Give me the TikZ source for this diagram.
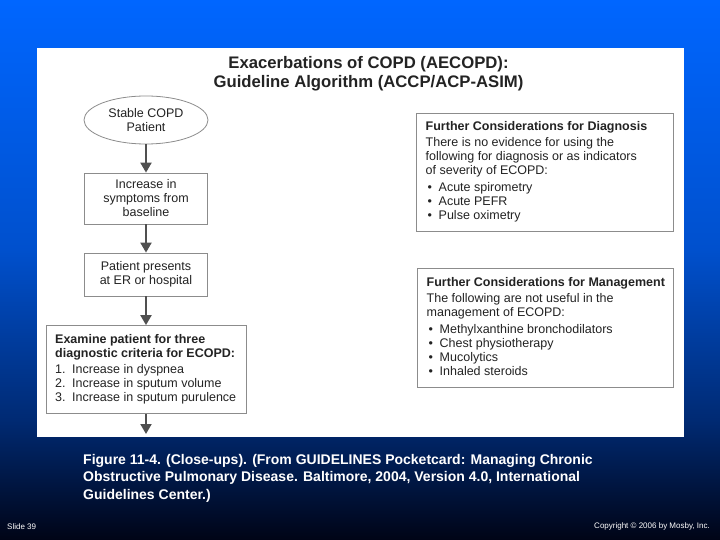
\documentclass[tikz,border=0pt]{standalone}
\usepackage{fontspec}
\setmainfont{Liberation Sans}
\usetikzlibrary{arrows.meta,shapes.geometric}
\definecolor{bgA}{RGB}{0,102,255}
\definecolor{bgB}{RGB}{0,80,205}
\definecolor{bgC}{RGB}{0,42,115}
\definecolor{bgD}{RGB}{0,4,22}
\definecolor{txt}{RGB}{35,35,35}
\definecolor{boxline}{RGB}{140,140,140}
\definecolor{arrowc}{RGB}{80,80,80}
\begin{document}
\begin{tikzpicture}[x=1pt,y=-1pt,
  flowbox/.style={draw=boxline, line width=0.8pt, fill=white, align=center, inner sep=0pt,
     text=txt, font=\fontsize{12.5}{14}\selectfont},
  startshape/.style={ellipse, draw=boxline, line width=0.8pt, align=center, inner sep=0pt,
     text=txt, font=\fontsize{12.5}{14}\selectfont},
  infobox/.style={draw=boxline, line width=0.8pt, inner sep=0pt},
  infotext/.style={anchor=north west, align=left, inner sep=0pt, text=txt,
     font=\fontsize{12.5}{14}\selectfont},
  flowarrow/.style={draw=arrowc, line width=2pt, -{Triangle[width=11pt,length=10pt]}},
  captext/.style={anchor=north west, align=left, inner sep=0pt, text=white,
     font=\bfseries\fontsize{14}{17.5}\selectfont},
  smalltext/.style={text=white, inner sep=0pt, font=\fontsize{8}{9}\selectfont}
]
\useasboundingbox (0,0) rectangle (720,540);
% background
\shade[top color=bgA, bottom color=bgB] (0,0) rectangle (720,250);
\shade[top color=bgB, bottom color=bgC] (0,250) rectangle (720,420);
\shade[top color=bgC, bottom color=bgD] (0,420) rectangle (720,540);
% white panel
\fill[white] (37,48) rectangle (684,437);
% title
\node[text=txt, align=center, inner sep=0pt, font=\bfseries\fontsize{16.7}{18.7}\selectfont] (title) at (368.5,74)
  {Exacerbations of COPD (AECOPD):\\Guideline Algorithm (ACCP/ACP-ASIM)};
% flow
\node[startshape, minimum width=124pt, minimum height=48pt] (start) at (146,120) {Stable COPD\\Patient};
\node[flowbox, minimum width=123pt, minimum height=51pt] (b1) at (146,198.5) {Increase in\\symptoms from\\baseline};
\node[flowbox, minimum width=123pt, minimum height=43pt] (b2) at (146,274.5) {Patient presents\\at ER or hospital};
\node[infobox, fill=white, minimum width=200pt, minimum height=88pt] (b3) at (146,369.5) {};
\node[infotext] (b3t) at (55,334.5) {\textbf{Examine patient for three}\\
  \textbf{diagnostic criteria for ECOPD:}\\[2pt]
  \makebox[17pt][l]{1.}Increase in dyspnea\\
  \makebox[17pt][l]{2.}Increase in sputum volume\\
  \makebox[17pt][l]{3.}Increase in sputum purulence};
\coordinate (end) at (146,434);
\draw[flowarrow] (start) -- (b1);
\draw[flowarrow] (b1) -- (b2);
\draw[flowarrow] (b2) -- (b3);
\draw[flowarrow] (b3) -- (end);
% right boxes
\node[infobox, minimum width=257pt, minimum height=118pt] (diag) at (544.5,172) {};
\node[infotext] (diagt) at (425.5,121.5) {\textbf{Further Considerations for Diagnosis}\\[2pt]
  There is no evidence for using the\\
  following for diagnosis or as indicators\\
  of severity of ECOPD:\\[3pt]
  \makebox[13pt][l]{\hspace{2pt}\textbullet}Acute spirometry\\
  \makebox[13pt][l]{\hspace{2pt}\textbullet}Acute PEFR\\
  \makebox[13pt][l]{\hspace{2pt}\textbullet}Pulse oximetry};
\node[infobox, minimum width=256pt, minimum height=119pt] (mgmt) at (545,327.5) {};
\node[infotext] (mgmtt) at (426.5,277.5) {\textbf{Further Considerations for Management}\\[2pt]
  The following are not useful in the\\
  management of ECOPD:\\[3pt]
  \makebox[13pt][l]{\hspace{2pt}\textbullet}Methylxanthine bronchodilators\\
  \makebox[13pt][l]{\hspace{2pt}\textbullet}Chest physiotherapy\\
  \makebox[13pt][l]{\hspace{2pt}\textbullet}Mucolytics\\
  \makebox[13pt][l]{\hspace{2pt}\textbullet}Inhaled steroids};
% caption
\node[captext] (cap) at (83,454) {Figure 11-4. (Close-ups). (From GUIDELINES Pocketcard: Managing Chronic\\
  Obstructive Pulmonary Disease. Baltimore, 2004, Version 4.0, International\\
  Guidelines Center.)};
\node[smalltext, anchor=west] (slide) at (7,527) {Slide 39};
\node[smalltext, anchor=east] (copy) at (710,526.5) {Copyright © 2006 by Mosby, Inc.};
\end{tikzpicture}
\end{document}
